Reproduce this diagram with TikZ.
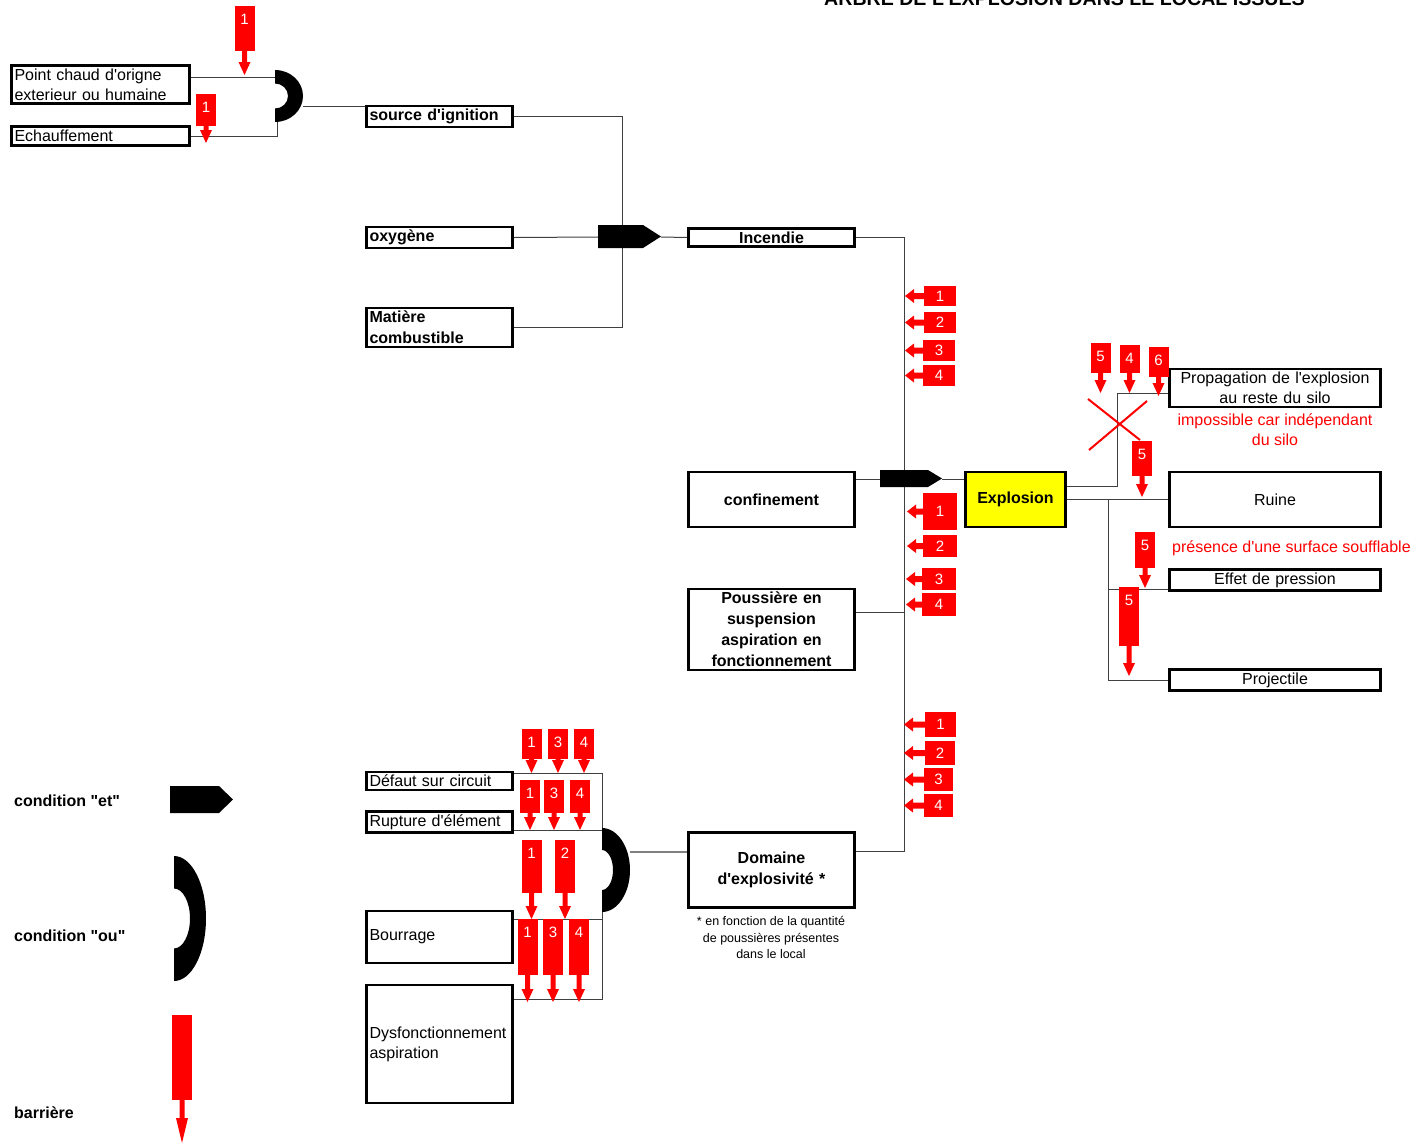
\documentclass[tikz,border=0pt]{standalone}
\usepackage{fontspec}
\setmainfont{Liberation Sans}[Ligatures=TeXOff]
\usepackage{tikz}
\definecolor{ffqqqq}{rgb}{1,0,0}
\definecolor{ffffqq}{rgb}{1,1,0}
\definecolor{uququq}{rgb}{0.25,0.25,0.25}
\definecolor{sqsqsq}{rgb}{0.5,0.5,0.5}
\newcount\nbar
% barriere verticale : x centre, haut, bas, pointe, numero
\newcommand{\barriereB}[5]{%
\fill[ffqqqq] ({#1-10},#2) rectangle ({#1+10},#3);
\fill[ffqqqq] ({#1-2.5},#3) -- ({#1-2.5},{#4-13}) -- ({#1-6},{#4-13}) -- (#1,#4) -- ({#1+6},{#4-13}) -- ({#1+2.5},{#4-13}) -- ({#1+2.5},#3) -- cycle;
\global\advance\nbar by 1
\node[numbar] (bar\the\nbar) at (#1,{#2+13}) {#5};}
% barriere horizontale : x gauche, x droite, haut, bas, pointe, numero
\newcommand{\barriereG}[6]{%
\fill[ffqqqq] (#1,#3) rectangle (#2,#4);
\fill[ffqqqq] (#1,{(#3+#4)/2-3}) -- ({#5+9},{(#3+#4)/2-3}) -- ({#5+9},{(#3+#4)/2-7}) -- (#5,{(#3+#4)/2}) -- ({#5+9},{(#3+#4)/2+7}) -- ({#5+9},{(#3+#4)/2+3}) -- (#1,{(#3+#4)/2+3}) -- cycle;
\global\advance\nbar by 1
\node[numbar] (bar\the\nbar) at ({(#1+#2)/2},{(#3+#4)/2}) {#6};}
% porte ou : x, haut, bas, largeur, rayon interieur, demi-hauteur interieure
\newcommand{\porteOU}[6]{%
\fill (#1,#2) arc[start angle=-90,end angle=90,x radius=#4,y radius={(#3-#2)/2}] -- (#1,{(#2+#3)/2+#6}) arc[start angle=90,end angle=-90,x radius=#5,y radius=#6] -- cycle;}
% porte et : x, haut, bas, fin du rectangle, pointe
\newcommand{\porteET}[5]{%
\fill (#1,#2) -- (#4,#2) -- (#5,{(#2+#3)/2}) -- (#4,#3) -- (#1,#3) -- cycle;}

\begin{document}
\begin{tikzpicture}[line join=miter,x=1pt,y=-1pt,
box/.style={draw,line width=2.6pt,fill=white,inner sep=3pt,font=\fontsize{16}{20}\selectfont},
colG/.style={box,minimum width=146,text width=140,align=left},
colC/.style={box,minimum width=166,text width=160,align=center,font=\bfseries\fontsize{16}{21}\selectfont},
colD/.style={box,minimum width=211,text width=205,align=center},
numbar/.style={text=white,font=\fontsize{15}{15}\selectfont,inner sep=0pt},
wire/.style={draw=uququq,line width=1pt},
wirelarge/.style={draw=sqsqsq,line width=2.8pt},
rednote/.style={text=ffqqqq,font=\fontsize{16}{20}\selectfont,align=center,inner sep=0pt},
petit/.style={font=\fontsize{12.5}{16.5}\selectfont,align=center,inner sep=0pt},
legende/.style={font=\bfseries\fontsize{16}{20}\selectfont,anchor=west,inner sep=0pt}]
\useasboundingbox (0,0) rectangle (1417,1144);
\clip (0,0) rectangle (1417,1144);

\node[font=\bfseries\fontsize{19.6}{20}\selectfont,anchor=base] (titre) at (1064.5,5) {ARBRE DE L'EXPLOSION DANS LE LOCAL ISSUES};

% points de jonction
\coordinate (ouAin) at (275,77);
\coordinate (ouAbot) at (277,122);
\coordinate (ouAout) at (303,106);
\coordinate (etAtop) at (622,225);
\coordinate (etAin) at (598,237);
\coordinate (etAbot) at (622,248);
\coordinate (etAout) at (661,237);
\coordinate (etBtop) at (904,470);
\coordinate (etBbot) at (904,487);
\coordinate (etBin) at (880,479);
\coordinate (etBout) at (942,479);
\coordinate (pouJ) at (904,612);
\coordinate (domJ) at (904,851);
\coordinate (expJ) at (1117,486);
\coordinate (expK) at (1117,393);
\coordinate (ruiJ) at (1108,499);
\coordinate (presJ) at (1108,589);
\coordinate (defJ) at (602,773);
\coordinate (ouBtop) at (602,830);
\coordinate (ouBbot) at (602,912);
\coordinate (bouJ) at (602,919);
\coordinate (dysJ) at (602,999);
\coordinate (ouBout) at (630,852);

% evenements
\node[colG,minimum width=178,text width=172,minimum height=38] (pointchaud) at (100.5,84.5) {Point chaud d'origne\\exterieur ou humaine};
\node[colG,minimum width=178,text width=172,minimum height=19] (echauff) at (100.5,136) {Echauffement};
\node[colG,minimum height=18,font=\bfseries\fontsize{16}{21}\selectfont] (ignition) at (439.5,116.5) {source d'ignition};
\node[colG,minimum height=17,font=\bfseries\fontsize{16}{21}\selectfont] (oxygene) at (439.5,237.5) {oxygène};
\node[colG,minimum height=39,font=\bfseries\fontsize{16}{21}\selectfont] (matiere) at (439.5,327.5) {Matière\\combustible};
\node[colC,minimum height=17] (incendie) at (771.5,237.5) {Incendie};
\node[colC,minimum height=55] (confin) at (771.5,499.5) {confinement};
\node[colC,minimum height=78] (poussiere) at (771.5,629.5) {Poussière en\\suspension\\aspiration en\\fonctionnement};
\node[colC,minimum height=75] (domaine) at (771.5,870) {Domaine\\d'explosivité *};
\node[box,fill=ffffqq,minimum width=100,minimum height=55,font=\bfseries\fontsize{16}{20}\selectfont] (explosion) at (1015.5,499.5) {Explosion};
\node[colD,minimum height=38] (propag) at (1275,388) {Propagation de l'explosion\\au reste du silo};
\node[colD,minimum height=55] (ruine) at (1275,499.5) {Ruine};
\node[colD,minimum height=18] (pression) at (1275,580) {Effet de pression};
\node[colD,minimum height=18] (projectile) at (1275,680) {Projectile};
\node[colG,minimum height=18] (defaut) at (439.5,781) {Défaut sur circuit};
\node[colG,minimum height=18] (rupture) at (439.5,822) {Rupture d'élément};
\node[colG,minimum height=52] (bourrage) at (439.5,937) {Bourrage};
\node[colG,minimum height=118] (dysfonc) at (439.5,1044) {Dysfonctionnement\\aspiration};

% liaisons
\draw[wire] (pointchaud.east |- ouAin) -- (ouAin);
\draw[wire] (echauff.east) -| (ouAbot);
\draw[wire] (ouAout) -- (ouAout -| ignition.west);
\draw[wire] (ignition.east) -| (etAtop);
\draw[wire] (oxygene.east) -- (etAin);
\draw[wire] (matiere.east) -| (etAbot);
\draw[wire] (etAout) -- (incendie.west);
\draw[wire] (incendie.east) -| (etBtop);
\draw[wire] (etBbot) -- (domJ) -- (domJ -| domaine.east);
\draw[wire] (pouJ) -- (pouJ -| poussiere.east);
\draw[wire] (confin.east |- etBin) -- (etBin);
\draw[wire] (etBout) -- (etBout -| explosion.west);
\draw[wire] (explosion.east |- expJ) -- (expJ) -- (expK) -- (expK -| propag.west);
\draw[wire] (explosion.east) -- (ruine.west);
\draw[wire] (ruiJ) |- (projectile.west);
\draw[wire] (presJ) -- (presJ -| pression.west);
\draw[wire] (defaut.east |- defJ) -- (defJ) -- (ouBtop);
\draw[wire] (rupture.east |- ouBtop) -- (ouBtop);
\draw[wire] (ouBbot) -- (dysJ) -- (dysJ -| dysfonc.east);
\draw[wire] (bouJ) -- (bouJ -| bourrage.east);
\draw[wirelarge] (ouBout) -- (ouBout -| domaine.west);

% portes
\porteOU{275}{70}{122}{28}{13}{12.5}
\porteET{598}{225}{248}{643}{661}
\porteET{880}{470}{487}{928}{942}
\porteOU{602}{828}{912}{28}{11}{20}

% barrieres
\barriereB{244.5}{6}{51}{75}{1}
\barriereB{206}{94}{126}{143}{1}
\barriereG{924}{956}{286}{306}{905}{1}
\barriereG{924}{956}{312}{333}{905}{2}
\barriereG{923}{955}{340}{361}{905}{3}
\barriereG{923}{955}{365}{386}{905}{4}
\barriereG{923}{957}{493}{530}{907}{1}
\barriereG{923}{957}{535}{557}{907}{2}
\barriereG{922}{956}{568}{590}{906}{3}
\barriereG{922}{956}{593}{616}{906}{4}
\barriereG{925}{956}{712}{737}{904}{1}
\barriereG{925}{955}{741}{765}{904}{2}
\barriereG{924}{953}{768}{791}{904}{3}
\barriereG{924}{953}{794}{817}{904}{4}
\barriereB{1100.5}{343}{373}{393}{5}
\barriereB{1129.5}{345}{373}{393}{4}
\barriereB{1158.5}{347}{377}{396}{6}
\barriereB{1142}{441}{476}{497}{5}
\barriereB{1145}{532}{568}{588}{5}
\barriereB{1129}{587}{646}{676}{5}
\barriereB{531.5}{729}{759}{773}{1}
\barriereB{558}{729}{759}{773}{3}
\barriereB{584}{729}{759}{773}{4}
\barriereB{530}{780}{813}{830}{1}
\barriereB{554}{780}{813}{830}{3}
\barriereB{580}{780}{813}{830}{4}
\barriereB{531.5}{840}{893}{919}{1}
\barriereB{565}{840}{893}{919}{2}
\barriereB{527.5}{919}{975}{1002}{1}
\barriereB{553}{919}{975}{1002}{3}
\barriereB{579}{919}{975}{1002}{4}

% croix et remarques
\draw[ffqqqq,line width=2pt] (1088,399) -- (1140,440);
\draw[ffqqqq,line width=2pt] (1147,401) -- (1089,450);
\node[rednote] (noteprop) at (1275,430) {impossible car indépendant\\du silo};
\node[rednote,anchor=west] (notesouffl) at (1172,548) {présence d'une surface soufflable};
\node[petit] (notedom) at (771,937.5) {* en fonction de la quantité\\de poussières présentes\\dans le local};

% legende
\node[legende] (legET) at (14,801) {condition "et"};
\node[legende] (legOU) at (14,936) {condition "ou"};
\node[legende] (legBar) at (14,1113) {barrière};
\porteET{170}{786}{813}{219}{233}
\porteOU{174}{856}{981}{32}{16}{30}
\fill[ffqqqq] (172,1015) rectangle (192,1100);
\fill[ffqqqq] (179.5,1100) -- (179.5,1118) -- (176,1118) -- (182,1143) -- (188,1118) -- (184.5,1118) -- (184.5,1100) -- cycle;
\end{tikzpicture}
\end{document}
